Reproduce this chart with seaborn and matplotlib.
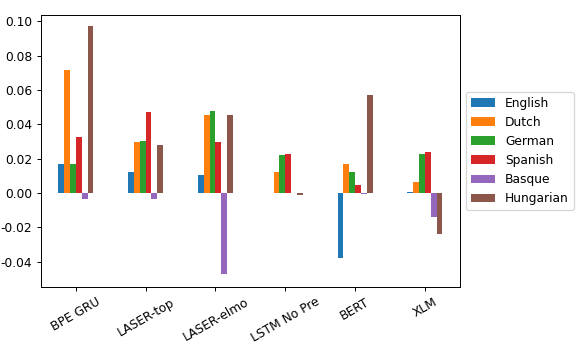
import matplotlib
matplotlib.use("Agg")
import matplotlib.pyplot as plt
import seaborn as sns
import pandas as pd

models = ["BPE GRU", "LASER-top", "LASER-elmo", "LSTM No Pre", "BERT", "XLM"]
languages = ["English", "Dutch", "German", "Spanish", "Basque", "Hungarian"]

english   = [0.0171, 0.0120, 0.0107, 0.0000, -0.0377, 0.0008]
dutch     = [0.0718, 0.0295, 0.0456, 0.0120, 0.0169, 0.0066]
german    = [0.0171, 0.0303, 0.0478, 0.0223, 0.0120, 0.0227]
spanish   = [0.0326, 0.0470, 0.0295, 0.0229, 0.0045, 0.0240]
basque    = [-0.0033, -0.0033, -0.0470, 0.0000, -0.0006, -0.0138]
hungarian = [0.0975, 0.0282, 0.0456, -0.0012, 0.0570, -0.0239]

series = [english, dutch, german, spanish, basque, hungarian]
rows = []
for lang, vals in zip(languages, series):
    for m, v in zip(models, vals):
        rows.append({"model": m, "language": lang, "value": v})
df = pd.DataFrame(rows)

palette = ["#1f77b4", "#ff7f0e", "#2ca02c", "#d62728", "#9467bd", "#8c564b"]

DPI = 88
fig = plt.figure(figsize=(582 / DPI, 347 / DPI), dpi=DPI)
ax = fig.add_axes([0.0704, 0.173, 0.7196, 0.784])
sns.barplot(data=df, x="model", y="value", hue="language", order=models,
            hue_order=languages, palette=palette, saturation=1, width=0.5,
            linewidth=0, ax=ax)
ax.set_xlabel("")
ax.set_ylabel("")
ax.set_xlim(-0.5, 5.5)
ax.set_ylim(-0.0548, 0.1038)
ax.set_yticks([-0.04, -0.02, 0.0, 0.02, 0.04, 0.06, 0.08, 0.10])
ax.set_yticklabels(["-0.04", "-0.02", "0.00", "0.02", "0.04", "0.06", "0.08", "0.10"])
plt.setp(ax.get_xticklabels(), rotation=30)
ax.legend(loc="center left", bbox_to_anchor=(1.0, 0.5), title=None)
fig.savefig("out.png", dpi=DPI)
